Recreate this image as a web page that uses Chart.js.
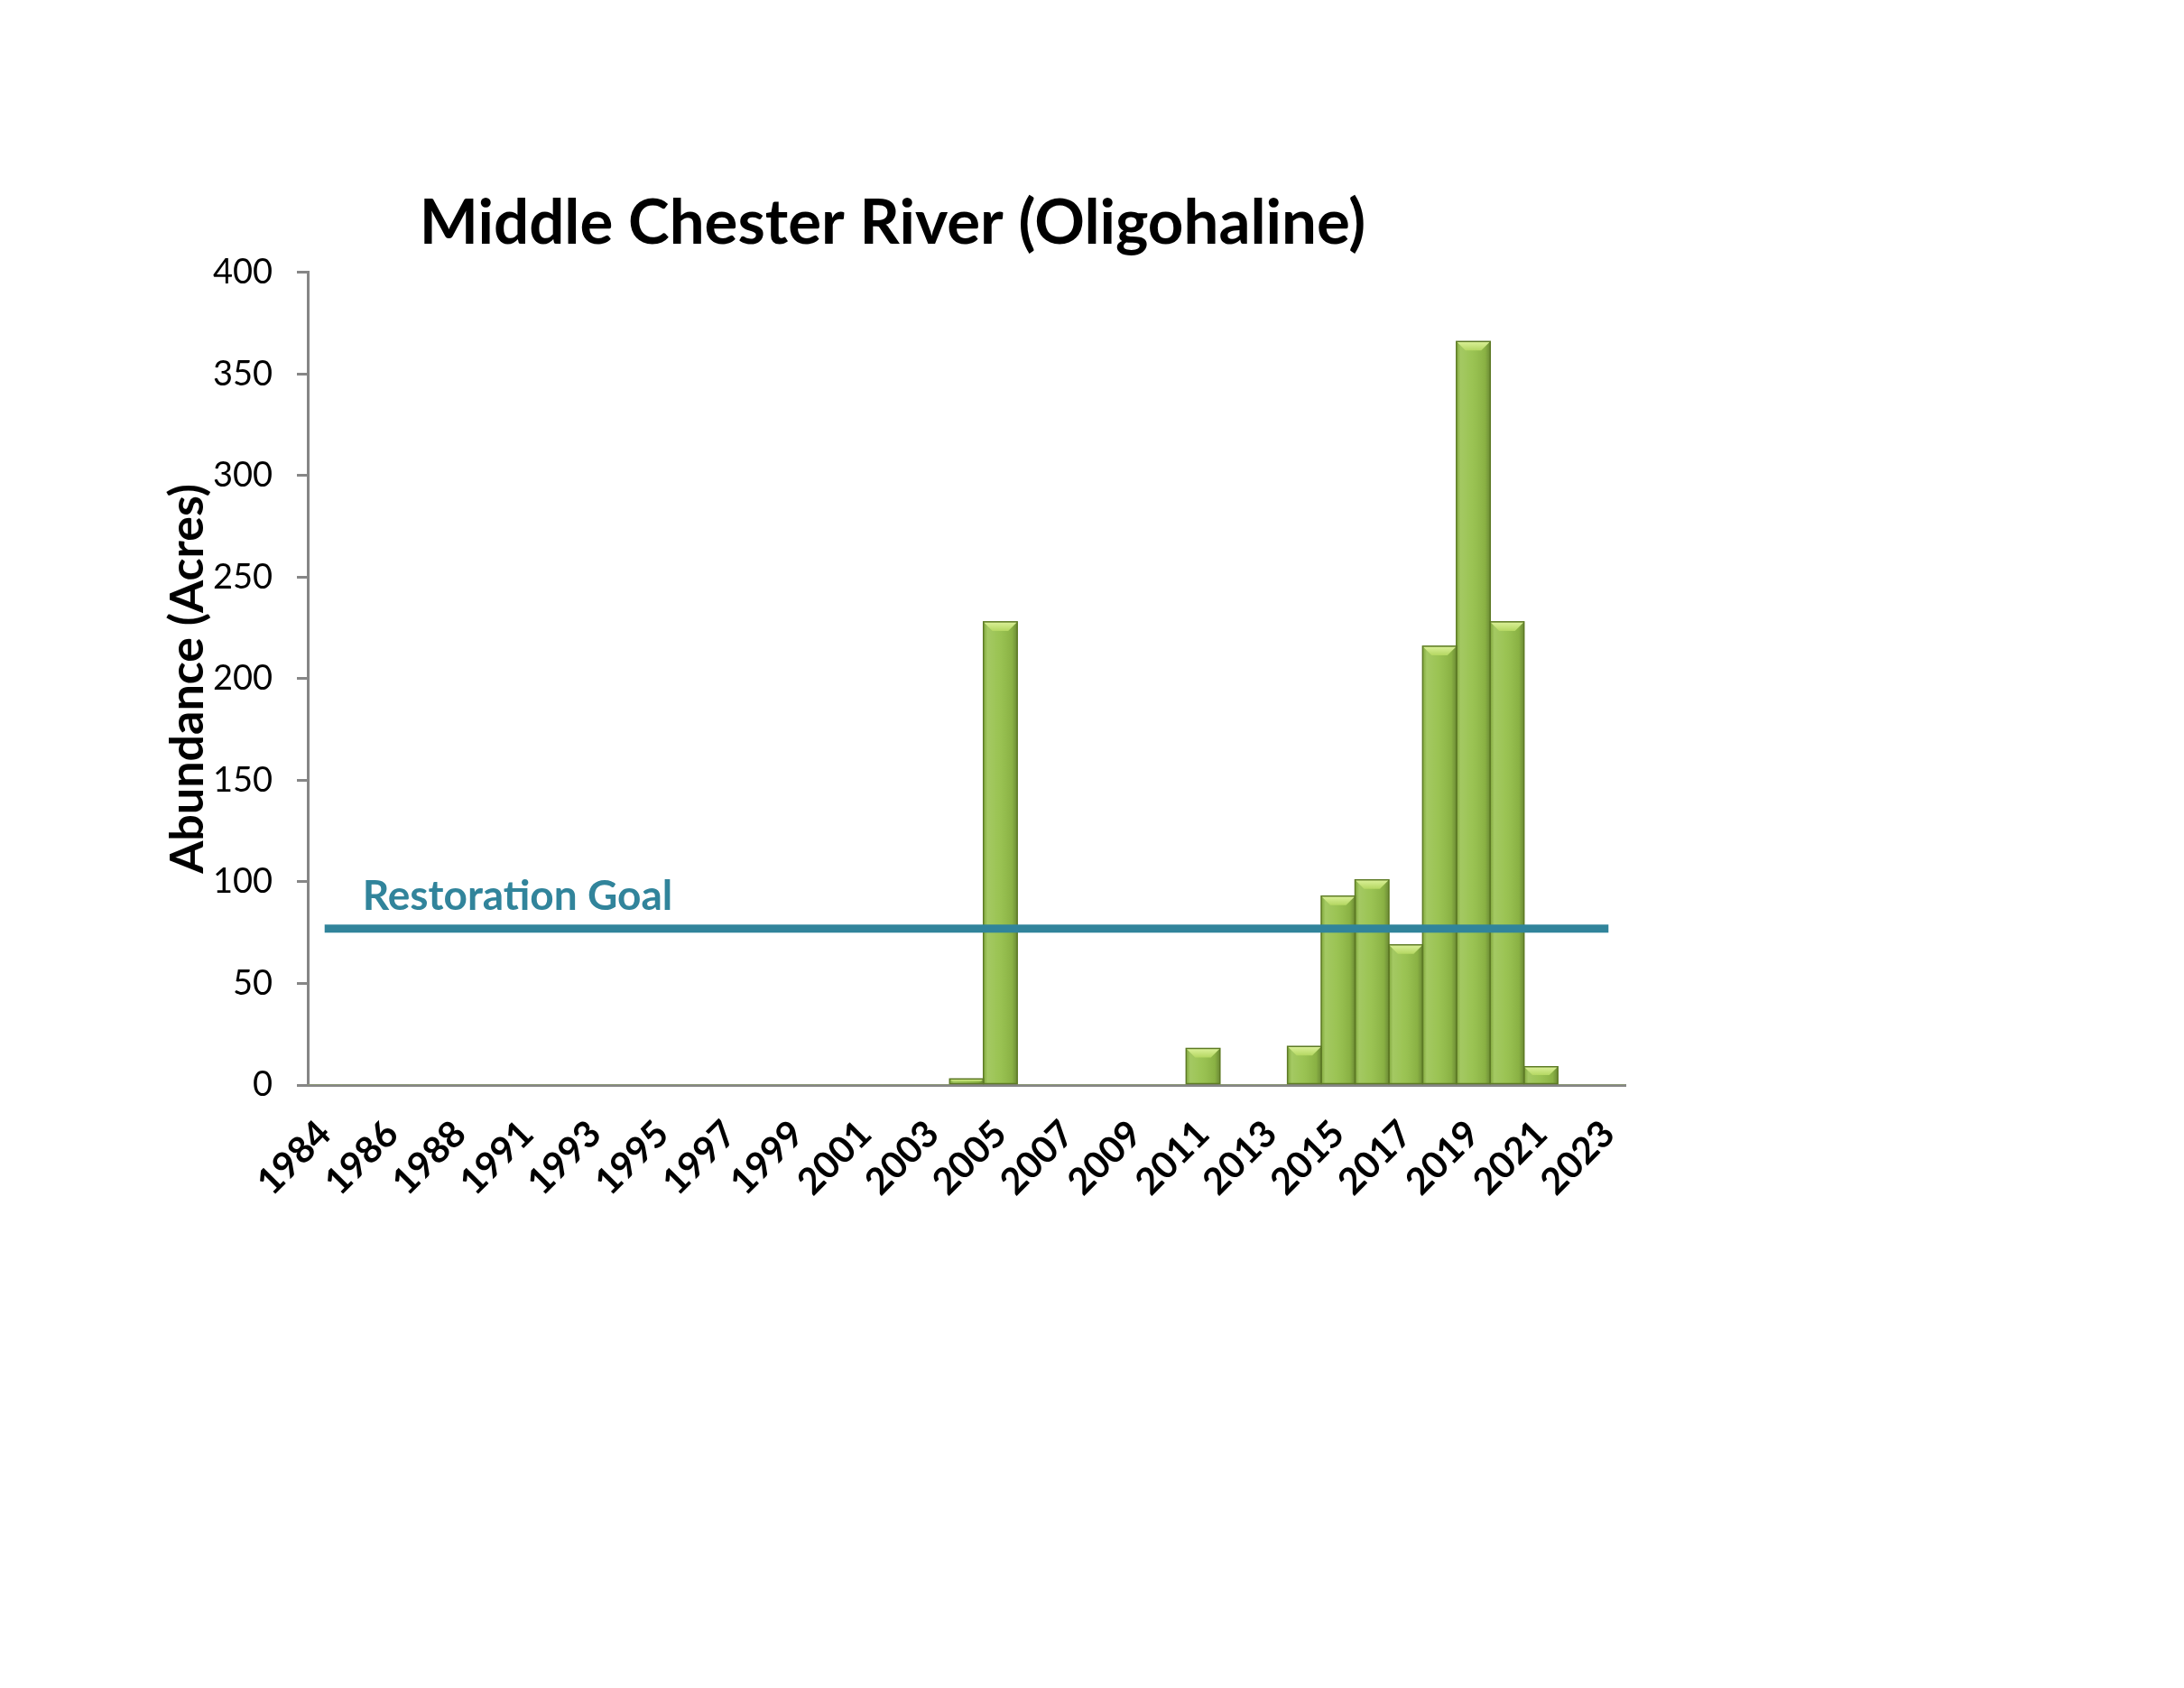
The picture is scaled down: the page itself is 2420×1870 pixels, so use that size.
<!DOCTYPE html>
<html>
<head>
<meta charset="utf-8">
<title>Middle Chester River (Oligohaline)</title>
<script src="https://cdn.jsdelivr.net/npm/chart.js@4.4.1/dist/chart.umd.min.js"></script>
<style>
  body { margin: 0; background: #ffffff; }
  canvas { display: block; }
</style>
</head>
<body>
<canvas id="myChart" width="2420" height="1870"></canvas>
<script>
'use strict';

// Survey years (no 1990 survey)
let years = [
  '1984', '1985', '1986', '1987', '1988', '1989',
  '1991', '1992', '1993', '1994', '1995', '1996', '1997', '1998', '1999', '2000',
  '2001', '2002', '2003', '2004', '2005', '2006', '2007', '2008', '2009', '2010',
  '2011', '2012', '2013', '2014', '2015', '2016', '2017', '2018', '2019', '2020',
  '2021', '2022', '2023'
];

// SAV abundance in acres
let acres = [
  0, 0, 0, 0, 0, 0,
  0, 0, 0, 0, 0, 0, 0, 0, 0, 0,
  0, 0, 0, 3, 228, 0, 0, 0, 0, 0,
  18, 0, 0, 19, 93, 101, 69, 216, 366, 228,
  9, 0, 0
];

// Restoration goal (acres) and where the goal line starts and stops
let restorationGoal = 77;
let goalYears = ['1984', '2023'];

// y axis tick values
let yTicks = [0, 50, 100, 150, 200, 250, 300, 350, 400];

let goalColor = '#31849B';
let axisColor = '#868686';

// Draws the beveled look on top of every bar
const bevelPlugin = {
  id: 'bevel',
  afterDatasetDraw(chart, args) {
    if (args.index !== 0) return;
    let ctx = chart.ctx;
    let bars = chart.getDatasetMeta(0).data;
    ctx.save();
    for (let i = 0; i < bars.length; i++) {
      if (!acres[i]) continue;
      let bar = bars[i];
      let left = bar.x - bar.width / 2;
      let right = bar.x + bar.width / 2;
      let top = bar.y;
      let bottom = bar.base;
      let h = bottom - top;

      // side shading
      let grad = ctx.createLinearGradient(left, 0, right, 0);
      grad.addColorStop(0, 'rgba(0,0,0,0.10)');
      grad.addColorStop(0.12, 'rgba(255,255,255,0.14)');
      grad.addColorStop(0.45, 'rgba(255,255,255,0.06)');
      grad.addColorStop(0.85, 'rgba(0,0,0,0.08)');
      grad.addColorStop(1, 'rgba(0,0,0,0.28)');
      ctx.fillStyle = grad;
      ctx.fillRect(left, top, right - left, h);

      // top bevel
      let b = Math.min(10, h / 2);
      let topGrad = ctx.createLinearGradient(0, top, 0, top + b);
      topGrad.addColorStop(0, '#dcf19a');
      topGrad.addColorStop(1, '#b4d762');
      ctx.fillStyle = topGrad;
      ctx.beginPath();
      ctx.moveTo(left, top);
      ctx.lineTo(right, top);
      ctx.lineTo(right - b, top + b);
      ctx.lineTo(left + b, top + b);
      ctx.closePath();
      ctx.fill();

      // outline
      ctx.strokeStyle = '#5d7a25';
      ctx.lineWidth = 1.5;
      ctx.strokeRect(left, top, right - left, h);
    }
    ctx.restore();
  }
};

// Writes "Restoration Goal" above the goal line
const goalLabelPlugin = {
  id: 'goalLabel',
  afterDatasetsDraw(chart) {
    let ctx = chart.ctx;
    let x = chart.scales.x.getPixelForValue(0) + 42;
    let y = chart.scales.y.getPixelForValue(restorationGoal) - 21;
    ctx.save();
    ctx.font = 'bold 46px Lato';
    ctx.fillStyle = goalColor;
    ctx.textAlign = 'left';
    ctx.textBaseline = 'alphabetic';
    ctx.fillText('Restoration Goal', x, y);
    ctx.restore();
  }
};

const data = {
  labels: years,
  datasets: [
    {
      type: 'bar',
      label: 'Abundance',
      data: acres,
      backgroundColor: '#95c049',
      borderWidth: 0,
      categoryPercentage: 1,
      barPercentage: 1,
      order: 1
    },
    {
      type: 'line',
      label: 'Restoration Goal',
      data: goalYears.map(function (yr) { return { x: yr, y: restorationGoal }; }),
      borderColor: goalColor,
      borderWidth: 9,
      pointRadius: 0,
      fill: false,
      order: 0
    }
  ]
};

const config = {
  type: 'bar',
  data: data,
  options: {
    responsive: false,
    animation: false,
    layout: {
      padding: { left: 177, right: 619, top: 206, bottom: 538 }
    },
    plugins: {
      legend: { display: false },
      tooltip: { enabled: false },
      title: {
        display: true,
        text: 'Middle Chester River (Oligohaline)',
        color: '#000000',
        font: { family: 'Lato', size: 69, weight: 'bold' },
        padding: { top: 0, bottom: 13 }
      }
    },
    scales: {
      x: {
        offset: true,
        grid: { display: true, drawOnChartArea: false, drawTicks: false },
        border: { display: true, color: axisColor, width: 3 },
        ticks: {
          autoSkip: false,
          maxRotation: 45,
          minRotation: 45,
          padding: 30,
          color: '#000000',
          font: { family: 'Lato', size: 41, weight: 'bold' },
          callback: function (val, i) {
            return i % 2 === 0 ? years[i] : '';
          }
        },
        afterFit: function (scale) { scale.height = 130; }
      },
      y: {
        min: 0,
        max: 400,
        grid: {
          display: true,
          drawOnChartArea: false,
          drawTicks: true,
          tickLength: 12,
          color: axisColor,
          lineWidth: 3
        },
        border: { display: true, color: axisColor, width: 3 },
        afterBuildTicks: function (scale) {
          scale.ticks = yTicks.map(function (v) { return { value: v }; });
        },
        ticks: {
          padding: 27,
          color: '#000000',
          font: { family: 'Lato', size: 38 }
        },
        title: {
          display: true,
          text: 'Abundance (Acres)',
          color: '#000000',
          font: { family: 'Lato', size: 52, weight: 'bold' },
          padding: 0
        },
        afterFit: function (scale) { scale.width = 164; }
      }
    }
  },
  plugins: [bevelPlugin, goalLabelPlugin]
};

const myChart = new Chart(
  document.getElementById('myChart'),
  config
);
</script>
</body>
</html>
